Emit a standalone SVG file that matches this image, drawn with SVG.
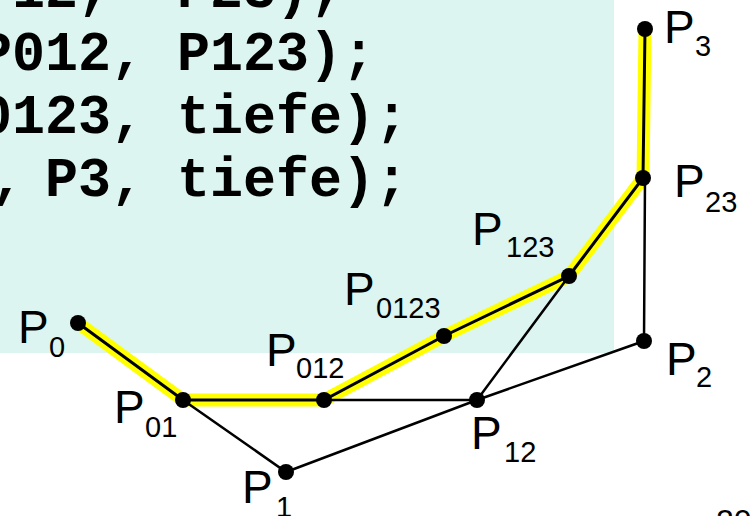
<svg xmlns="http://www.w3.org/2000/svg" width="754" height="516" viewBox="0 0 754 516">
<style>
.code{font-family:"Liberation Mono","Courier New",monospace;font-weight:bold;font-size:55px;fill:#000}
.lbl{font-family:"Liberation Sans",Arial,sans-serif;font-size:46px;fill:#000}
.sub{font-size:29px}
.hl{fill:none;stroke:#FFFF00;stroke-width:13;stroke-linejoin:miter}
.ln{fill:none;stroke:#000;stroke-width:2.5}
.lnb{fill:none;stroke:#000;stroke-width:3}
.dot{fill:#000}
</style>
<rect x="0" y="0" width="614" height="353" fill="#DCF5F1"/>
<g id="code">
<text class="code" x="-21" y="7" xml:space="preserve">P12,  P23);</text>
<text class="code" x="-21" y="70" xml:space="preserve">P012, P123);</text>
<text class="code" x="-21" y="133" xml:space="preserve">0123, tiefe);</text>
<text class="code" x="-9" y="196" xml:space="preserve">,<tspan x="12" xml:space="preserve"> P3, tiefe);</tspan></text>
</g>
<g id="connectors">
<polyline class="hl" points="78,323 183,400 324,400 444,336 569,276 643,178 645,29"/>
<polyline class="ln" points="183,400 286,472 477,400 644,341 645,178"/>
<polyline class="ln" points="324,400 477,400 569,276"/>
<polyline class="lnb" points="78,323 183,400 324,400 444,336 569,276 643,178 645,29"/>
</g>
<g id="P0"><circle class="dot" cx="78" cy="323" r="8"/><text class="lbl" x="18" y="343">P<tspan class="sub" x="49" y="357">0</tspan></text></g>
<g id="P01"><circle class="dot" cx="183" cy="400" r="8"/><text class="lbl" x="114" y="423">P<tspan class="sub" x="145" y="437">01</tspan></text></g>
<g id="P1"><circle class="dot" cx="286" cy="472" r="8"/><text class="lbl" x="242" y="503">P<tspan class="sub" x="276" y="517">1</tspan></text></g>
<g id="P012"><circle class="dot" cx="324" cy="400" r="8"/><text class="lbl" x="266" y="366">P<tspan class="sub" x="296" y="378">012</tspan></text></g>
<g id="P12"><circle class="dot" cx="477" cy="400" r="8"/><text class="lbl" x="471" y="449">P<tspan class="sub" x="504" y="462">12</tspan></text></g>
<g id="P2"><circle class="dot" cx="644" cy="341" r="8"/><text class="lbl" x="666" y="375">P<tspan class="sub" x="696" y="387">2</tspan></text></g>
<g id="P0123"><circle class="dot" cx="444" cy="336" r="8"/><text class="lbl" x="344" y="305">P<tspan class="sub" x="376" y="318">0123</tspan></text></g>
<g id="P123"><circle class="dot" cx="569" cy="276" r="8"/><text class="lbl" x="472" y="245">P<tspan class="sub" x="506" y="257">123</tspan></text></g>
<g id="P23"><circle class="dot" cx="643" cy="178" r="8"/><text class="lbl" x="674" y="197">P<tspan class="sub" x="705" y="212">23</tspan></text></g>
<g id="P3"><circle class="dot" cx="645" cy="29" r="8"/><text class="lbl" x="664" y="43">P<tspan class="sub" x="695" y="56">3</tspan></text></g>
<text x="716" y="532" font-family="Liberation Sans,Arial,sans-serif" font-size="32">20</text>
</svg>
